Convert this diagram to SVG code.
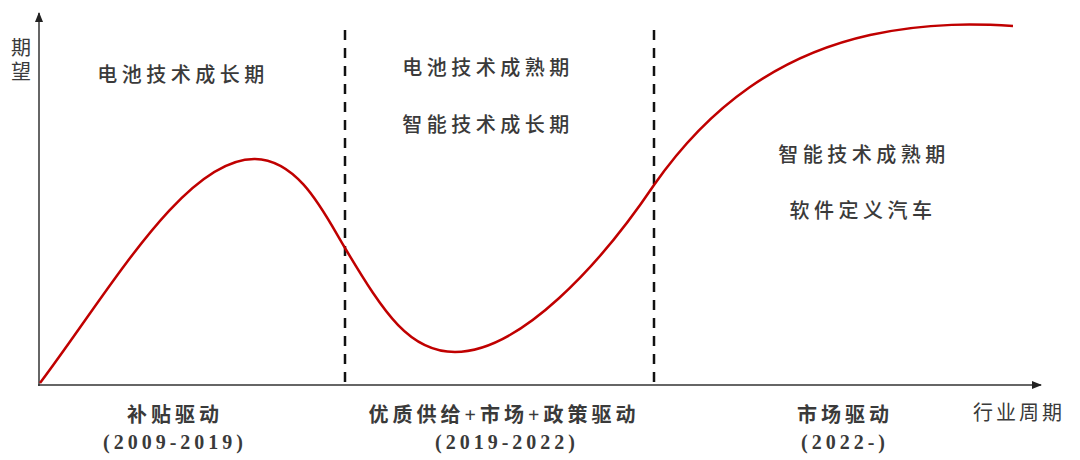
<svg xmlns="http://www.w3.org/2000/svg" width="1080" height="460" viewBox="0 0 1080 460">
<style>
.lbl{font-family:"Noto Sans CJK SC","Noto Sans",sans-serif;font-size:20px;fill:#3a3a3a;letter-spacing:4.5px;text-anchor:middle;font-weight:500}
.bot{font-family:"Liberation Serif","Noto Sans CJK SC",serif;font-size:20px;fill:#3a3a3a;font-weight:bold;text-anchor:middle;letter-spacing:4px}
.ax{font-family:"Noto Sans CJK SC","Noto Sans",sans-serif;font-size:20px;fill:#3a3a3a}
</style>
<defs>
<marker id="ah" markerWidth="10" markerHeight="10" refX="9" refY="5" orient="auto" markerUnits="userSpaceOnUse">
<path d="M0,1 L10,5 L0,9 Z" fill="#222"/>
</marker>
</defs>
<rect width="1080" height="460" fill="#fff"/>
<g id="connectors">
<line x1="39" y1="386" x2="39" y2="13" stroke="#333" stroke-width="1.5" marker-end="url(#ah)"/>
<line x1="38" y1="385" x2="1041" y2="385" stroke="#333" stroke-width="1.5" marker-end="url(#ah)"/>
<line x1="345" y1="30" x2="345" y2="382" stroke="#111" stroke-width="2.5" stroke-dasharray="10,8"/>
<line x1="654" y1="30" x2="654" y2="382" stroke="#111" stroke-width="2.5" stroke-dasharray="10,8"/>
<path d="M40,383 C110,290 185,158 255,159 C300,160 325,215 345,248 C385,315 410,352 455,352 C520,352 600,265 654,185 C710,105 780,55 870,35 C930,22 980,24 1013,26" fill="none" stroke="#c00000" stroke-width="2.5"/>
</g>
<g id="axis-labels">
<text class="ax" x="21" y="37" writing-mode="tb" letter-spacing="4">期望</text>
<text class="ax" x="973" y="420" font-size="21" letter-spacing="3">行业周期</text>
</g>
<g id="phase1">
<text class="lbl" x="183" y="82">电池技术成长期</text>
<text class="bot" x="175" y="422">补贴驱动</text>
<text class="bot" x="175" y="449">(2009-2019)</text>
</g>
<g id="phase2">
<text class="lbl" x="488" y="75">电池技术成熟期</text>
<text class="lbl" x="488" y="132">智能技术成长期</text>
<text class="bot" x="504" y="422">优质供给+市场+政策驱动</text>
<text class="bot" x="507" y="449">(2019-2022)</text>
</g>
<g id="phase3">
<text class="lbl" x="864" y="162">智能技术成熟期</text>
<text class="lbl" x="863" y="218">软件定义汽车</text>
<text class="bot" x="845" y="422">市场驱动</text>
<text class="bot" x="845" y="449">(2022-)</text>
</g>
</svg>
